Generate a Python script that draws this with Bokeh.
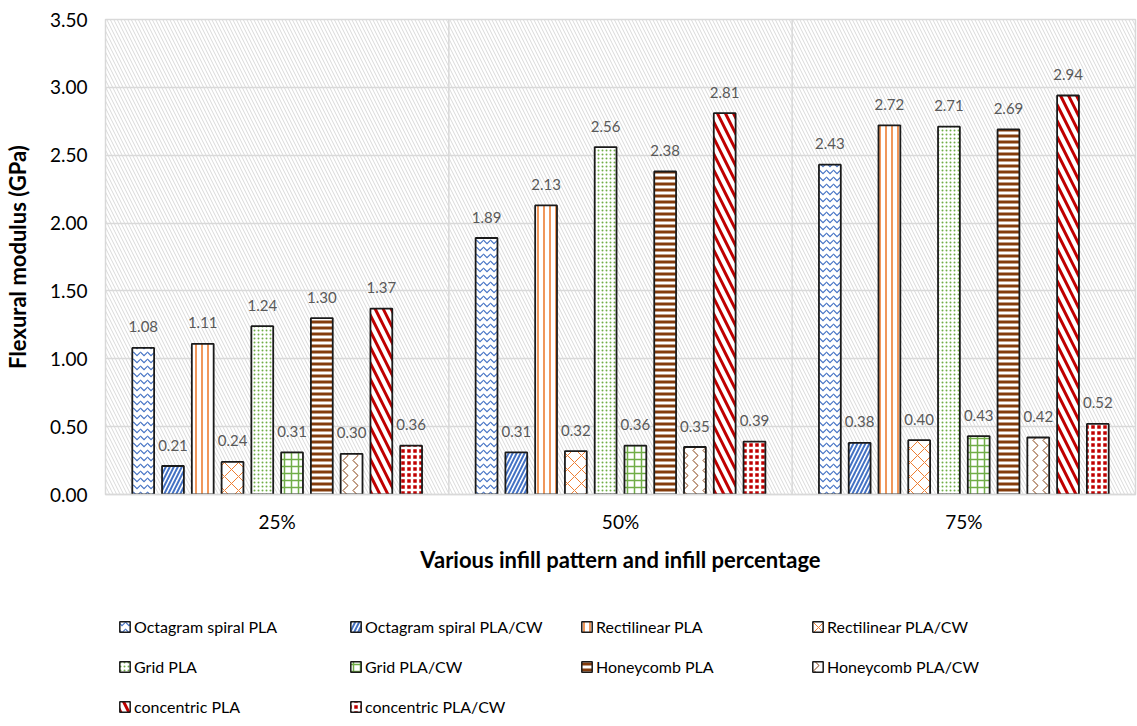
from bokeh.plotting import figure
from bokeh.layouts import column
from bokeh.models import (Range1d, FactorRange, FixedTicker, PrintfTickFormatter, Legend, LegendItem,
                          BoxAnnotation, Span, ColumnDataSource)
from bokeh.transform import dodge
from bokeh.core.properties import value
from bokeh.embed import file_html
from bokeh.resources import INLINE

categories = ["25%", "50%", "75%"]
series_names = ["Octagram spiral PLA", "Octagram spiral PLA/CW", "Rectilinear PLA", "Rectilinear PLA/CW",
                "Grid PLA", "Grid PLA/CW", "Honeycomb PLA", "Honeycomb PLA/CW",
                "concentric PLA", "concentric PLA/CW"]
octagram_pla = [1.08, 1.89, 2.43]
octagram_cw = [0.21, 0.31, 0.38]
rectilinear_pla = [1.11, 2.13, 2.72]
rectilinear_cw = [0.24, 0.32, 0.40]
grid_pla = [1.24, 2.56, 2.71]
grid_cw = [0.31, 0.36, 0.43]
honeycomb_pla = [1.30, 2.38, 2.69]
honeycomb_cw = [0.30, 0.35, 0.42]
concentric_pla = [1.37, 2.81, 2.94]
concentric_cw = [0.36, 0.39, 0.52]
series_values = [octagram_pla, octagram_cw, rectilinear_pla, rectilinear_cw, grid_pla, grid_cw,
                 honeycomb_pla, honeycomb_cw, concentric_pla, concentric_cw]
y_ticks = [0, 0.5, 1.0, 1.5, 2.0, 2.5, 3.0, 3.5]

# styles: (fill, hatch pattern, hatch colour, hatch scale, hatch weight)
BLUE, ORANGE, GREEN, BROWN, RED = "#4472C4", "#ED7D31", "#70AD47", "#843C0C", "#C00000"
styles = [
    ("white", "v", BLUE, 7, 1.2),
    ("white", "/", BLUE, 8, 2.0),
    ("white", "|", ORANGE, 6, 1.6),
    ("white", "x", ORANGE, 14, 1.0),
    ("white", ".", GREEN, 4, 1.0),
    ("white", "+", GREEN, 7, 1.5),
    ("white", "-", BROWN, 6, 3.0),
    ("white", ">", BROWN, 10, 1.0),
    ("white", "\\", RED, 16, 3.0),
    (RED, "+", "white", 6, 2.5),
]

FONT = "Lato"
p = figure(x_range=FactorRange(*categories, range_padding=0), y_range=Range1d(0, 3.5),
           frame_width=1030, frame_height=475, output_backend="svg", toolbar_location=None,
           min_border_left=103, min_border_top=19, min_border_right=2, min_border_bottom=96)
p.background_fill_color = "white"
p.outline_line_color = "#D9D9D9"
p.outline_line_width = 1.5

bg = BoxAnnotation(fill_alpha=0, line_alpha=0, hatch_pattern="\\", hatch_color="#D9D9D9",
                   hatch_scale=7, hatch_weight=1.0, level="underlay")
p.add_layout(bg)

# legend strip below the chart (its zero-size renderers draw nothing; only the legend shows)
leg_fig = figure(width=1135, height=130, output_backend="svg", toolbar_location=None,
                 x_axis_location=None, y_axis_location=None, min_border=0,
                 x_range=p.x_range, y_range=Range1d(10, 11))
leg_fig.outline_line_color = None
leg_fig.grid.visible = False

step = 30 / 346
bw = 22 / 346
items = []
for i, (name, vals) in enumerate(zip(series_names, series_values)):
    src = ColumnDataSource(dict(cat=categories, v=vals, lbl=["%.2f" % v for v in vals]))
    off = (i - 4.5) * step
    fill, pat, hc, hs, hw = styles[i]
    style = dict(fill_color=fill, line_color="#1a1a1a", hatch_pattern=pat, hatch_color=hc,
                 hatch_scale=hs, hatch_weight=hw)
    p.vbar(x=dodge("cat", off, range=p.x_range), top="v", width=bw, source=src,
           line_width=1.8, **style)
    p.text(x=dodge("cat", off, range=p.x_range), y="v", text="lbl", source=src,
           text_align="center", text_baseline="middle", y_offset=-21,
           text_font=value(FONT), text_font_size="15px", text_color="#595959")
    lr = leg_fig.vbar(x=dodge("cat", off, range=p.x_range), bottom="v", top="v", width=0,
                      source=src, line_width=1.5, **style)
    items.append(LegendItem(label=name, renderers=[lr]))

for loc in [1, 2]:
    p.add_layout(Span(location=loc, dimension="height", line_color="#D9D9D9", line_width=1.5))

p.ygrid.ticker = FixedTicker(ticks=y_ticks)
p.ygrid.grid_line_color = "#D9D9D9"
p.ygrid.grid_line_width = 1.5
p.xgrid.grid_line_color = None

p.yaxis.ticker = FixedTicker(ticks=y_ticks)
p.yaxis.formatter = PrintfTickFormatter(format="%.2f")
p.yaxis.axis_line_color = None
p.yaxis.major_tick_line_color = None
p.yaxis.minor_tick_line_color = None
p.yaxis.major_label_standoff = 12
p.yaxis.axis_label = "Flexural modulus (GPa)"
p.yaxis.axis_label_standoff = 16

p.xaxis.axis_line_color = "#D9D9D9"
p.xaxis.axis_line_width = 1.5
p.xaxis.major_tick_line_color = None
p.xaxis.minor_tick_line_color = None
p.xaxis.major_label_standoff = 9
p.xaxis.axis_label = "Various infill pattern and infill percentage"
p.xaxis.axis_label_standoff = 10

for ax in [p.xaxis[0], p.yaxis[0]]:
    ax.major_label_text_font = FONT
    ax.major_label_text_font_size = "19px"
    ax.major_label_text_color = "#000000"
    ax.axis_label_text_font = FONT
    ax.axis_label_text_font_size = "22px"
    ax.axis_label_text_font_style = "bold"
    ax.axis_label_text_color = "#000000"

legend = Legend(items=items, orientation="horizontal", ncols=4, location=(13, 4),
                glyph_width=13, glyph_height=13, label_standoff=3, label_width=195,
                label_height=20, spacing=20, padding=0, margin=0,
                label_text_font=FONT, label_text_font_size="16px", label_text_color="#000000",
                border_line_color=None, background_fill_alpha=0)
leg_fig.add_layout(legend)

layout = column(p, leg_fig, spacing=0)
open("out.html", "w").write(file_html(layout, INLINE))
